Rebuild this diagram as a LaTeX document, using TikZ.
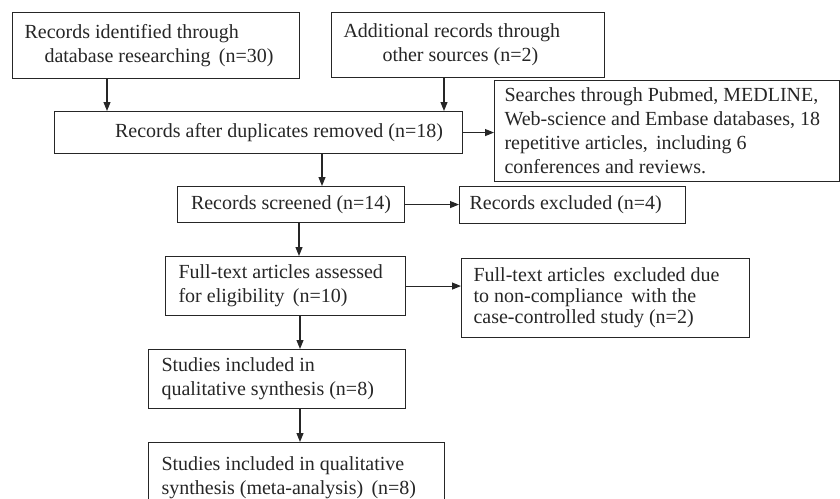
\documentclass[tikz,border=0pt]{standalone}
\usepackage{fontspec}
\setmainfont{Liberation Serif}
\usepackage{tikz}
\usetikzlibrary{arrows.meta,calc}
\definecolor{ink}{HTML}{262626}
\tikzset{
  box/.style={rectangle,draw=ink,line width=1.1pt,anchor=north west,
    inner xsep=12pt,inner ysep=2pt,align=flush left,text=ink,
    font=\fontsize{20}{24}\selectfont},
  arrow/.style={-{Triangle[length=9pt,width=7pt]},line width=1.1pt,draw=ink}
}
\begin{document}
\begin{tikzpicture}[x=1pt,y=-1pt]
\useasboundingbox (0,0) rectangle (840,498);
% identification
\node[box,text width=263pt,minimum height=66pt] (ident) at (12,12)
  {Records identified through\\\hspace*{20pt}database researching\, (n=30)};
\node[box,text width=249pt,minimum height=65pt] (other) at (331,12)
  {Additional records through\\\hspace*{39pt}other sources (n=2)};
\node[box,align=center,minimum width=408pt,minimum height=42pt] (dupl) at (54,111)
  {\hspace*{41pt}Records after duplicates removed (n=18)};
\node[box,inner xsep=10pt,text width=325pt,minimum height=101pt] (search) at (494,80)
  {Searches through Pubmed, MEDLINE,\\Web-science and Embase databases, 18\\
   repetitive articles,\, including 6\\conferences and reviews.};
% screening
\node[box,align=center,minimum width=227pt,minimum height=36pt] (screen) at (177,186)
  {Records screened (n=14)};
\node[box,inner xsep=10pt,text width=206pt,minimum height=37pt] (excl) at (459,186)
  {Records excluded (n=4)};
% eligibility
\node[box,inner xsep=13pt,text width=214pt,minimum height=59pt] (full) at (165,256)
  {Full-text articles assessed\\for eligibility\, (n=10)};
\node[box,text width=264pt,minimum height=79pt,font=\fontsize{20}{21}\selectfont] (fullex) at (461,258)
  {Full-text articles\, excluded due\\to non-compliance\, with the\\case-controlled study (n=2)};
% included
\node[box,inner xsep=13pt,text width=231pt,minimum height=59pt] (qual) at (148,349)
  {Studies included in\\qualitative synthesis (n=8)};
\node[box,inner xsep=13pt,text width=270pt,minimum height=70pt] (meta) at (148,442)
  {Studies included in qualitative\\synthesis (meta-analysis)\, (n=8)};
% connectors
\coordinate (a1) at ([xshift=95pt]ident.south west);
\coordinate (a2) at ([xshift=113pt]other.south west);
\coordinate (a3) at ([xshift=268pt]dupl.south west);
\coordinate (a4) at ([xshift=122pt]screen.south west);
\coordinate (a5) at ([xshift=135pt]full.south west);
\coordinate (a6) at ([xshift=152pt]qual.south west);
\draw[arrow] (a1) -- (a1 |- dupl.north);
\draw[arrow] (a2) -- (a2 |- dupl.north);
\draw[arrow] (dupl.east) -- (dupl.east -| search.west);
\draw[arrow] (a3) -- (a3 |- screen.north);
\draw[arrow] (screen.east) -- (screen.east -| excl.west);
\draw[arrow] (a4) -- (a4 |- full.north);
\draw[arrow] (full.east) -- (full.east -| fullex.west);
\draw[arrow] (a5) -- (a5 |- qual.north);
\draw[arrow] (a6) -- (a6 |- meta.north);
\end{tikzpicture}
\end{document}
